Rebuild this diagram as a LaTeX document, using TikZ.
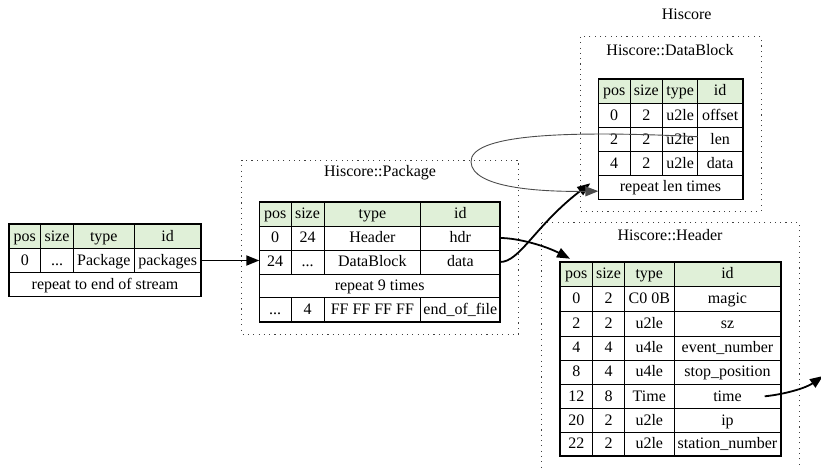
\documentclass[tikz,border=0pt]{standalone}
\usepackage{fontspec}
\setmainfont{Liberation Serif}
\usetikzlibrary{arrows.meta,fit}
\definecolor{hdrfill}{RGB}{224,240,216}
\tikzset{
  cell/.style={draw, line width=0.8pt, inner sep=0pt, outer sep=0pt, text height=12.5pt, text depth=3pt, font=\fontsize{16}{18}\selectfont},
  hcell/.style={cell, fill=hdrfill},
  tabframe/.style={draw, line width=1.6pt, inner sep=0pt, outer sep=0pt},
  cluster/.style={draw=black!75, line width=1pt, dash pattern=on 1.1pt off 4.2pt},
  title/.style={font=\fontsize{16}{18}\selectfont, inner sep=0pt},
  edge/.style={line width=1.8pt, -{Triangle[length=13pt,width=10pt]}},
  loopedge/.style={line width=0.9pt, draw=black!70, -{Triangle[length=13pt,width=10pt]}}
}
\newcommand\cellat[7]{%
  \pgfmathsetmacro\cx{(#3+#5)/2}\pgfmathsetmacro\cy{(#4+#6)/2}%
  \pgfmathsetmacro\cw{#5-#3}\pgfmathsetmacro\ch{#6-#4}%
  \node[#1, minimum width=\cw pt, minimum height=\ch pt] (#2) at (\cx,\cy) {#7};}
\newcommand\rowfour[8]{%
  \cellat{#1}{#2-1}{\xa}{#3}{\xb}{#4}{#5}%
  \cellat{#1}{#2-2}{\xb}{#3}{\xc}{#4}{#6}%
  \cellat{#1}{#2-3}{\xc}{#3}{\xd}{#4}{#7}%
  \cellat{#1}{#2-4}{\xd}{#3}{\xe}{#4}{#8}}
\newcommand\dotsthree{{.}{.}{.}}
\begin{document}
\begin{tikzpicture}[x=1pt,y=-1pt]
\useasboundingbox (0,0) rectangle (821,468);
\clip (0,0) rectangle (821,468);

% clusters
\draw[cluster] (241.7,160) rectangle (518.3,334);
\draw[cluster] (580,37) rectangle (761,211);
\draw[cluster] (541.7,222.7) rectangle (799,480);

% titles
\node[title] (ttop) at (686.7,14) {Hiscore};
\node[title] (tdb) at (670,50) {Hiscore::DataBlock};
\node[title] (tpkg) at (380,173) {Hiscore::Package};
\node[title] (thdr) at (670,235) {Hiscore::Header};

% left table
\def\xa{9}\def\xb{40.7}\def\xc{73.3}\def\xd{134.3}\def\xe{201}
\rowfour{hcell}{l-h}{224}{248.5}{pos}{size}{type}{id}
\rowfour{cell}{l-r1}{248.5}{272.5}{0}{\dotsthree}{Package}{packages}
\cellat{cell}{l-rep}{9}{272.5}{201}{296.5}{repeat to end of stream}
\node[tabframe, fit=(l-h-1)(l-rep)] (ltab) {};

% package table
\def\xa{259.3}\def\xb{291}\def\xc{324}\def\xd{420.7}\def\xe{500}
\rowfour{hcell}{p-h}{201.7}{226}{pos}{size}{type}{id}
\rowfour{cell}{p-r1}{226}{250}{0}{24}{Header}{hdr}
\rowfour{cell}{p-r2}{250}{274}{24}{\dotsthree}{DataBlock}{data}
\cellat{cell}{p-rep}{259.3}{274}{500}{297.7}{repeat 9 times}
\rowfour{cell}{p-r4}{297.7}{321.7}{\dotsthree}{4}{FF FF FF FF}{end\_of\_file}
\node[tabframe, fit=(p-h-1)(p-r4-4)] (ptab) {};

% datablock table
\def\xa{598.3}\def\xb{630}\def\xc{662.7}\def\xd{697.7}\def\xe{742.7}
\rowfour{hcell}{d-h}{79}{103.3}{pos}{size}{type}{id}
\rowfour{cell}{d-r1}{103.3}{127.7}{0}{2}{u2le}{offset}
\rowfour{cell}{d-r2}{127.7}{151.7}{2}{2}{u2le}{len}
\rowfour{cell}{d-r3}{151.7}{175}{4}{2}{u2le}{data}
\cellat{cell}{d-rep}{598.3}{175}{742.7}{199.3}{repeat len times}
\node[tabframe, fit=(d-h-1)(d-rep)] (dtab) {};

% header table
\def\xa{560}\def\xb{592.7}\def\xc{624.3}\def\xd{674.3}\def\xe{780.7}
\rowfour{hcell}{h-h}{261.7}{286.7}{pos}{size}{type}{id}
\rowfour{cell}{h-r1}{286.7}{311.3}{0}{2}{C0 0B}{magic}
\rowfour{cell}{h-r2}{311.3}{336}{2}{2}{u2le}{sz}
\rowfour{cell}{h-r3}{336}{360}{4}{4}{u4le}{event\_number}
\rowfour{cell}{h-r4}{360}{384.3}{8}{4}{u4le}{stop\_position}
\rowfour{cell}{h-r5}{384.3}{408.3}{12}{8}{Time}{time}
\rowfour{cell}{h-r6}{408.3}{432.3}{20}{2}{u2le}{ip}
\rowfour{cell}{h-r7}{432.3}{456}{22}{2}{u2le}{station\_number}
\node[tabframe, fit=(h-h-1)(h-r7-4)] (htab) {};

% edges
\draw[edge] (l-r1-4.east) -- (l-r1-4.east -| ptab.west);
\draw[edge] (p-r1-4.east) .. controls +(18,0) and +(-25,-13) .. ([shift={(10,-3)}]htab.north west);
\draw[edge] (p-r2-4.east) .. controls +(20,0) and +(-55,42) .. ([shift={(-8,-16)}]dtab.south west);
\coordinate (loopL) at (471,162);
\draw[loopedge] ([shift={(0,-3)}]d-r2-3.east) .. controls (560,130) and (470,135) .. (loopL)
  .. controls (472,188) and (540,192) .. ([shift={(0,4)}]d-rep.west);
\coordinate (timeout) at (823,376);
\draw[edge] ([xshift=-16pt]h-r5-4.east) .. controls +(20,-2) and +(-17,12) .. (timeout);
\end{tikzpicture}
\end{document}
